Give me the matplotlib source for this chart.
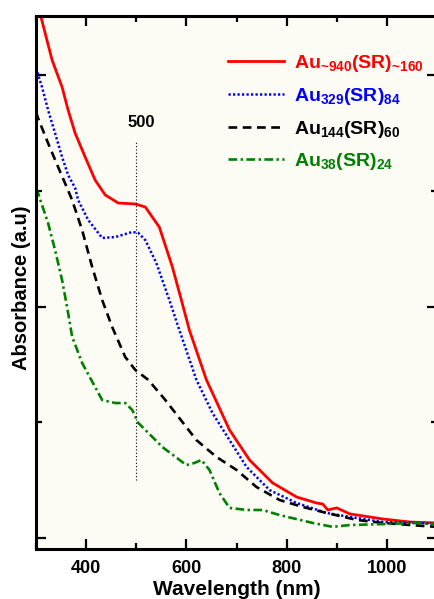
import matplotlib.pyplot as plt
from matplotlib.ticker import MultipleLocator

plt.rcParams["font.family"] = ["Liberation Sans", "DejaVu Sans"]
plt.rcParams["font.weight"] = "bold"
plt.rcParams["mathtext.fontset"] = "custom"
plt.rcParams["mathtext.rm"] = "Liberation Sans:bold"
plt.rcParams["mathtext.bf"] = "Liberation Sans:bold"
plt.rcParams["mathtext.default"] = "bf"

# Au~940(SR)~160
wl_940 = [300, 310, 332, 352, 364, 378, 398, 418, 438, 464, 498, 518, 546, 572,
          590, 606, 640, 686, 726, 772, 820, 860, 872, 882, 900, 926, 992, 1046, 1100]
abs_940 = [2.33, 2.25, 2.065, 1.948, 1.849, 1.749, 1.646, 1.546, 1.482, 1.447,
           1.443, 1.430, 1.343, 1.171, 1.028, 0.898, 0.683, 0.467, 0.337, 0.238,
           0.177, 0.151, 0.147, 0.121, 0.130, 0.104, 0.082, 0.069, 0.065]

# Au329(SR)84
wl_329 = [300, 312, 324, 338, 352, 364, 378, 384, 404, 432, 458, 492, 504, 518,
          540, 566, 586, 620, 652, 686, 720, 766, 820, 880, 926, 992, 1060, 1100]
abs_329 = [2.03, 1.948, 1.849, 1.749, 1.646, 1.568, 1.512, 1.460, 1.374, 1.296,
           1.300, 1.322, 1.318, 1.287, 1.188, 1.028, 0.898, 0.683, 0.540, 0.423,
           0.307, 0.207, 0.151, 0.108, 0.091, 0.069, 0.065, 0.060]

# Au144(SR)60
wl_144 = [300, 304, 324, 344, 362, 372, 392, 412, 432, 452, 478, 498, 524, 558,
          620, 660, 700, 740, 786, 832, 880, 940, 992, 1072, 1100]
abs_144 = [1.84, 1.814, 1.706, 1.603, 1.512, 1.460, 1.330, 1.171, 1.028, 0.911,
           0.782, 0.726, 0.683, 0.596, 0.423, 0.350, 0.294, 0.220, 0.164, 0.134,
           0.108, 0.078, 0.065, 0.052, 0.048]

# Au38(SR)24
wl_38 = [300, 304, 324, 338, 352, 362, 372, 392, 418, 432, 458, 478, 492, 504,
         524, 552, 600, 616, 630, 646, 666, 686, 720, 752, 786, 852, 892, 926,
         992, 1060, 1100]
abs_38 = [1.51, 1.490, 1.361, 1.244, 1.114, 0.998, 0.870, 0.756, 0.652, 0.596,
          0.583, 0.583, 0.553, 0.497, 0.454, 0.393, 0.315, 0.324, 0.337, 0.294,
          0.194, 0.130, 0.121, 0.121, 0.099, 0.065, 0.048, 0.056, 0.060, 0.065,
          0.060]

labels = [
    r"$Au_{\text{~940}}(SR)_{\text{~160}}$",
    r"$Au_{329}(SR)_{84}$",
    r"$Au_{144}(SR)_{60}$",
    r"$Au_{38}(SR)_{24}$",
]

fig = plt.figure(figsize=(4.35, 5.99), dpi=100)
ax = fig.add_axes([0.0828, 0.0835, 0.9218, 0.8898])
ax.set_facecolor("#fcfcf5")

ax.plot(wl_940, abs_940, color="red", lw=2.0, ls="-", label=labels[0])
ax.plot(wl_329, abs_329, color="blue", lw=1.8, ls=(0, (0.9, 0.9)), label=labels[1])
ax.plot(wl_144, abs_144, color="black", lw=1.9, ls=(0, (3.3, 2.1)), label=labels[2])
ax.plot(wl_38, abs_38, color="green", lw=1.9, ls=(0, (3.3, 1.3, 0.9, 1.3)), label=labels[3])

ax.plot([500, 500], [0.25, 1.72], color="black", lw=0.8, ls=(0, (1, 2)))
ax.text(511, 1.775, "500", ha="center", va="baseline", fontsize=12, fontweight="bold")

ax.set_xlim(300, 1100)
ax.set_ylim(-0.0475, 2.255)
ax.xaxis.set_major_locator(MultipleLocator(200))
ax.xaxis.set_minor_locator(MultipleLocator(100))
ax.yaxis.set_major_locator(MultipleLocator(1.0))
ax.yaxis.set_minor_locator(MultipleLocator(0.5))
ax.tick_params(which="both", direction="in", top=True, right=True, width=1.6,
               labelsize=13, pad=8)
ax.tick_params(which="major", length=7)
ax.tick_params(which="minor", length=4.5)
ax.tick_params(axis="y", labelleft=False)
for sp in ax.spines.values():
    sp.set_linewidth(2.2)

ax.set_xlabel("Wavelength (nm)", fontsize=15, fontweight="bold", labelpad=2)
ax.set_ylabel("Absorbance (a.u)", fontsize=14.5, fontweight="bold", va="center")
ax.yaxis.set_label_coords(-0.035, 0.49)

ax.legend(loc="upper left", bbox_to_anchor=(0.479, 0.93), frameon=False,
          borderpad=0, borderaxespad=0, fontsize=14, handlelength=2.9,
          labelcolor="linecolor", labelspacing=0.6, handletextpad=0.5)

fig.savefig("out.png", dpi=100)
